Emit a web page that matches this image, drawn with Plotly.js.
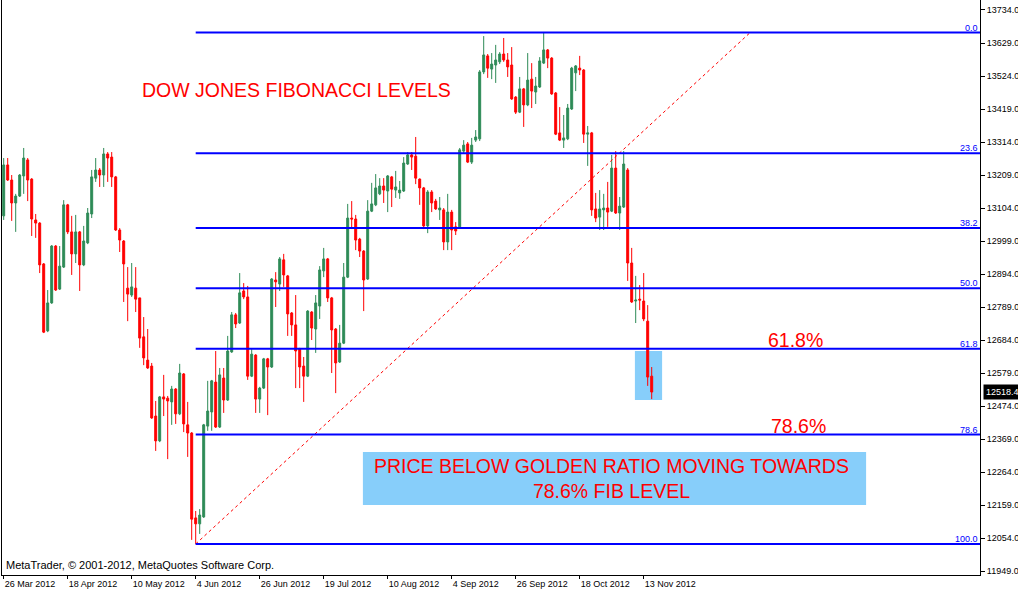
<!DOCTYPE html>
<html>
<head>
<meta charset="utf-8">
<script src="https://cdn.plot.ly/plotly-3.0.1.min.js"></script>
<style>html,body{margin:0;padding:0;background:#fff;}#chart{width:1018px;height:592px;}</style>
</head>
<body>
<div id="chart"></div>
<script>
// Daily Dow Jones bars, 26 Mar 2012 .. 15 Nov 2012
const openP = [13079,13241,13193,13120,13142,13206,13257,13196,13066,13056,12926,12713,12802,12983,12846,12916,13114,13028,12958,13028,12923,12993,13085,13199,13225,13209,13276,13266,13203,13034,12999,12849,12827,12849,12818,12694,12620,12601,12442,12363,12503,12499,12487,12528,12449,12576,12414,12388,12118,12099,12121,12410,12455,12550,12407,12563,12493,12646,12764,12738,12840,12821,12569,12636,12496,12531,12624,12598,12875,12862,12939,12888,12770,12732,12655,12601,12569,12773,12719,12792,12904,12942,12818,12719,12614,12674,12884,13072,13069,13005,12967,12878,13094,13114,13149,13174,13158,13203,13161,13152,13158,13244,13273,13269,13196,13168,13047,13155,13126,13098,13098,12996,13091,13044,13044,13285,13308,13250,13320,13324,13537,13588,13546,13559,13569,13594,13575,13559,13457,13409,13483,13432,13514,13473,13489,13565,13607,13581,13470,13343,13320,13324,13419,13534,13549,13543,13339,13343,13101,13075,13098,13104,13094,13231,13088,13107,13225,12929,12808,12814,12808,12744,12569];
const highP = [13263,13263,13209,13149,13212,13295,13263,13199,13085,13059,12929,12843,12986,12986,12983,13129,13117,13079,13082,13031,13047,13104,13225,13263,13231,13295,13282,13282,13206,13040,13002,12916,12929,12916,12818,12757,12719,12611,12490,12506,12573,12506,12538,12531,12608,12579,12487,12391,12140,12146,12417,12554,12557,12649,12595,12595,12697,12773,12770,12897,12865,12856,12655,12639,12535,12627,12627,12881,12900,12948,12958,12891,12773,12827,12659,12630,12779,12776,12827,12919,12977,12945,12821,12722,12732,12929,13117,13126,13082,13009,12970,13129,13184,13212,13199,13199,13209,13206,13222,13190,13266,13282,13282,13330,13198,13171,13161,13161,13133,13139,13104,13149,13098,13059,13295,13320,13314,13327,13352,13543,13651,13594,13597,13623,13600,13645,13597,13616,13460,13521,13486,13597,13565,13521,13584,13662,13610,13584,13473,13425,13400,13435,13553,13559,13588,13546,13365,13346,13152,13161,13149,13187,13273,13285,13139,13285,13231,12977,12888,12859,12897,12795,12598];
const lowP = [13066,13190,13063,13028,13139,13149,13126,13015,13009,12897,12706,12709,12799,12840,12843,12913,13021,12891,12929,12840,12919,12989,13072,13187,13171,13171,13187,13171,13031,12964,12805,12744,12821,12773,12659,12604,12592,12433,12331,12359,12442,12305,12414,12417,12445,12391,12312,12048,12035,12067,12118,12395,12395,12404,12404,12452,12490,12643,12722,12735,12814,12557,12566,12452,12452,12528,12445,12595,12789,12840,12853,12697,12697,12531,12531,12487,12566,12684,12643,12751,12884,12805,12579,12515,12611,12671,12881,13037,12970,12948,12776,12875,13091,13110,13145,13120,13091,13107,13136,13133,13155,13241,13225,13180,13114,13037,13024,13091,13098,13066,12970,12970,12970,13018,13037,13279,13247,13244,13314,13317,13530,13518,13514,13502,13562,13569,13521,13448,13403,13406,13362,13428,13422,13435,13486,13562,13549,13464,13336,13317,13295,13320,13416,13476,13527,13311,13238,13079,13059,13034,13034,13044,13091,13085,13034,13104,12872,12802,12738,12779,12744,12538,12496];
const closeP = [13241,13193,13120,13142,13209,13263,13193,13069,13056,12923,12709,12802,12983,12843,12919,13114,13028,12958,13028,12923,12999,13088,13203,13225,13209,13276,13263,13203,13034,13002,12926,12830,12853,12814,12690,12627,12595,12436,12363,12503,12496,12490,12528,12449,12579,12417,12388,12114,12099,12127,12414,12458,12554,12407,12573,12493,12649,12764,12735,12834,12821,12569,12639,12496,12531,12624,12598,12878,12869,12942,12891,12767,12732,12649,12598,12569,12776,12722,12802,12907,12942,12818,12716,12611,12674,12884,13072,13069,13002,12967,12875,13094,13117,13168,13174,13161,13206,13164,13171,13161,13247,13273,13266,13199,13168,13047,13155,13120,13101,13104,12996,13091,13034,13031,13289,13304,13250,13304,13330,13537,13591,13549,13562,13575,13594,13575,13553,13451,13409,13483,13432,13511,13476,13492,13572,13607,13581,13467,13339,13320,13327,13422,13549,13556,13543,13339,13343,13098,13072,13101,13104,13091,13231,13088,13110,13244,12929,12805,12811,12811,12751,12566,12518.4];

// time-axis labels and the bar each one sits on
const dateLabels = ['26 Mar 2012','18 Apr 2012','10 May 2012','4 Jun 2012','26 Jun 2012','19 Jul 2012','10 Aug 2012','4 Sep 2012','26 Sep 2012','18 Oct 2012','13 Nov 2012'];
const dateLabelBars = [0,16,32,48,64,80,96,112,128,144,160];

// Fibonacci retracement ratios (%)
const fibRatios = [0, 23.6, 38.2, 50, 61.8, 78.6, 100];

const barIndex = openP.map((_, i) => i);
const fibLow = Math.min(...lowP);
const fibHigh = Math.max(...highP);
const lowBar = lowP.indexOf(fibLow);
const lastClose = closeP[closeP.length - 1];

const xRange = [-0.425, 244.075];
const yRange = [11936.3, 13765.8];
const FONT = 'Liberation Sans, Arial, sans-serif';
const BIG = 19.5;

const trace = {
  type: 'candlestick',
  x: barIndex, open: openP, high: highP, low: lowP, close: closeP,
  increasing: {line: {color: '#2E8B57', width: 1}, fillcolor: '#2E8B57'},
  decreasing: {line: {color: '#FF0000', width: 1}, fillcolor: '#FF0000'},
  whiskerwidth: 0,
  hoverinfo: 'skip'
};

const shapes = [
  {type: 'rect', layer: 'below', xref: 'x', yref: 'y', x0: 157.8, x1: 164.6, y0: 12493, y1: 12649,
   fillcolor: '#87CEFA', line: {width: 0}},
  {type: 'rect', layer: 'below', xref: 'x', yref: 'y', x0: 89.8, x1: 215.6, y0: 12159, y1: 12328,
   fillcolor: '#87CEFA', line: {width: 0}},
  {type: 'line', xref: 'x', yref: 'y', x0: lowBar, y0: fibLow, x1: 186.6, y1: fibHigh,
   line: {color: '#FF0000', width: 1, dash: 'dot'}}
];
const annotations = [];
fibRatios.forEach(r => {
  const lvl = fibHigh - (r / 100) * (fibHigh - fibLow);
  shapes.push({type: 'line', xref: 'x', yref: 'y', x0: lowBar, x1: xRange[1], y0: lvl, y1: lvl,
    line: {color: '#0000FF', width: 2}});
  annotations.push({xref: 'paper', yref: 'y', x: 1, y: lvl, xanchor: 'right', yanchor: 'bottom',
    xshift: -1, yshift: -1, text: r.toFixed(1), showarrow: false, borderpad: 0,
    font: {family: FONT, size: 9, color: '#0000FF'}});
});

annotations.push(
  {xref: 'paper', yref: 'paper', x: 0.1411, y: 0.8435, xanchor: 'left', yanchor: 'middle',
   text: 'DOW JONES FIBONACCI LEVELS', showarrow: false, font: {family: FONT, size: BIG, color: '#FF0000'}},
  {xref: 'paper', yref: 'paper', x: 0.7812, y: 0.4087, xanchor: 'left', yanchor: 'middle',
   text: '61.8%', showarrow: false, font: {family: FONT, size: BIG, color: '#FF0000'}},
  {xref: 'paper', yref: 'paper', x: 0.7845, y: 0.2591, xanchor: 'left', yanchor: 'middle',
   text: '78.6%', showarrow: false, font: {family: FONT, size: BIG, color: '#FF0000'}},
  {xref: 'paper', yref: 'paper', x: 0.6237, y: 0.1678, xanchor: 'center', yanchor: 'middle',
   text: 'PRICE BELOW GOLDEN RATIO MOVING TOWARDS<br>78.6% FIB LEVEL', showarrow: false,
   font: {family: FONT, size: BIG, color: '#FF0000'}},
  {xref: 'paper', yref: 'paper', x: 0, y: 0.0174, xanchor: 'left', yanchor: 'middle', xshift: 2,
   text: 'MetaTrader, © 2001-2012, MetaQuotes Software Corp.', showarrow: false,
   font: {family: FONT, size: 11, color: '#000000'}},
  {xref: 'paper', yref: 'y', x: 1, y: lastClose, xanchor: 'left', yanchor: 'middle', xshift: 3,
   text: lastClose.toFixed(1), showarrow: false, bgcolor: '#000000', borderpad: 2,
   font: {family: FONT, size: 9, color: '#FFFFFF'}}
);

const layout = {
  width: 1018, height: 592,
  margin: {l: 2, r: 38, t: 0, b: 17, pad: 0},
  paper_bgcolor: '#FFFFFF', plot_bgcolor: '#FFFFFF',
  showlegend: false,
  font: {family: FONT, size: 9, color: '#000000'},
  xaxis: {
    range: xRange, rangeslider: {visible: false}, showgrid: false, zeroline: false,
    showline: true, linecolor: '#000000', linewidth: 1, mirror: true,
    tickmode: 'array', tickvals: dateLabelBars, ticktext: dateLabels,
    ticks: 'outside', ticklen: 3, tickcolor: '#000000', ticklabelposition: 'outside right',
    tickfont: {family: FONT, size: 9, color: '#000000'}, automargin: false, fixedrange: true
  },
  yaxis: {
    range: yRange, side: 'right', showgrid: false, zeroline: false,
    showline: true, linecolor: '#000000', linewidth: 1, mirror: true,
    tick0: 11949, dtick: 105, tickformat: '.1f',
    ticks: 'outside', ticklen: 4, tickcolor: '#000000',
    tickfont: {family: FONT, size: 9, color: '#000000'}, automargin: false, fixedrange: true
  },
  shapes: shapes,
  annotations: annotations
};

Plotly.newPlot('chart', [trace], layout, {staticPlot: true, displayModeBar: false});
</script>
</body>
</html>
